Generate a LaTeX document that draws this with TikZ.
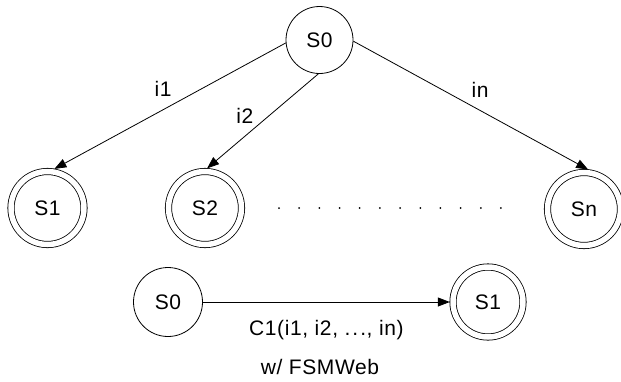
\documentclass[tikz,border=0pt]{standalone}
\usepackage{fontspec}
\setmainfont{Liberation Sans}[LetterSpace=3]
\usetikzlibrary{arrows.meta}
\begin{document}
\begin{tikzpicture}[x=1pt,y=-1pt,
  font=\fontsize{21}{25}\selectfont,
  state/.style={circle, draw, line width=0.8pt, minimum size=67pt, inner sep=0pt},
  final/.style={circle, draw, line width=0.8pt, double, double distance=5.5pt,
                minimum size=73pt, inner sep=0pt, outer sep=3.2pt},
  edge/.style={draw, line width=0.8pt, -{Triangle[length=12pt,width=9pt]}},
  lbl/.style={inner sep=0pt}]
\useasboundingbox (0,0) rectangle (621,381);
\clip (0,0) rectangle (621,381);

% fan-out from the start state
\node[state] (s0) at (319.5,40) {S0};
\node[final] (s1) at (47.5,208) {S1};
\node[final] (s2) at (205,208) {S2};
\node[final] (sn) at (584,209) {Sn};

\draw[edge] (s0.185) -- node[lbl, pos=0.53, yshift=21pt] {i1} (s1.80);
\draw[edge] (s0.268) -- node[lbl, pos=0.66, yshift=20pt] {i2} (s2.87);
\draw[edge] (s0.358) -- node[lbl, pos=0.54, yshift=21pt] {in} (sn.84);

% ellipsis between S2 and Sn
\foreach \i in {0,...,11}
  \fill (279+\i*20.18,208) circle (1pt);

% collapsed machine
\node[state, minimum size=69pt] (b0) at (168,302) {S0};
\node[final, minimum size=70pt] (b1) at (488,302) {S1};
\draw[edge] (b0) -- node[lbl, pos=0.5, yshift=-28pt] {C1(i1, i2, .\kern2pt.\kern2pt., in)} (b1);

\node[lbl] (caption) at (320,367) {w/ FSMWeb};
\end{tikzpicture}
\end{document}
